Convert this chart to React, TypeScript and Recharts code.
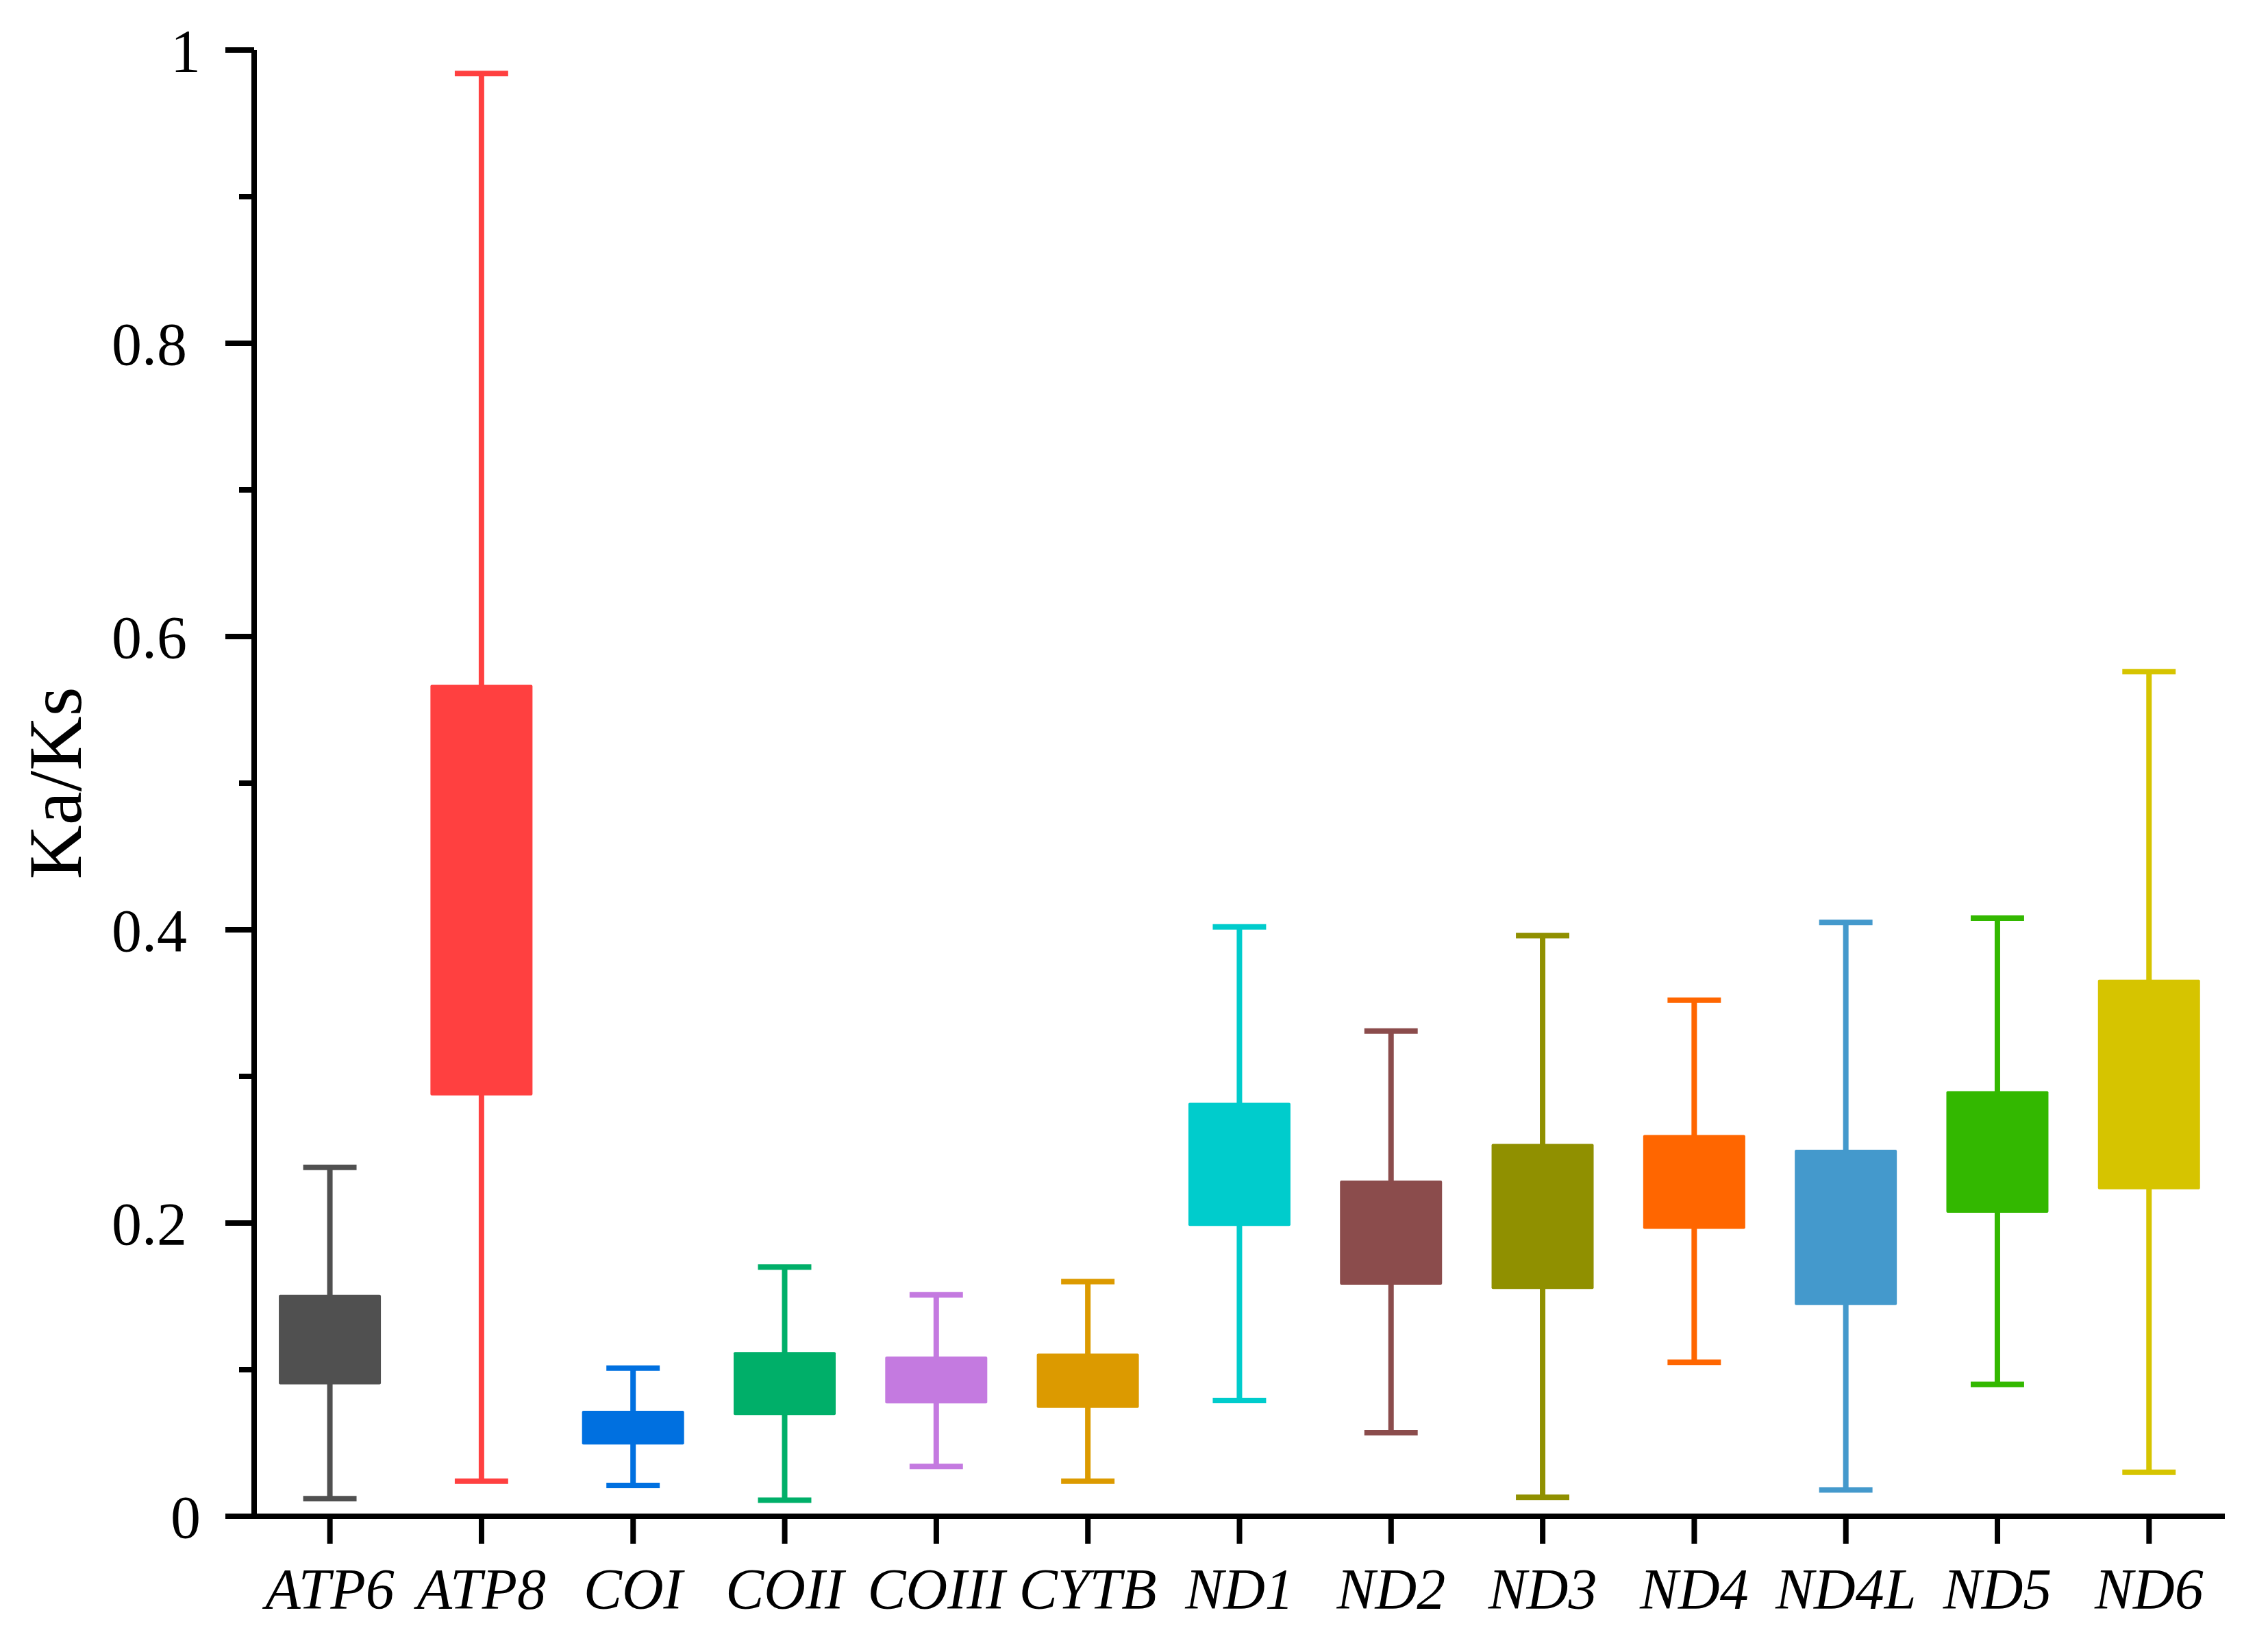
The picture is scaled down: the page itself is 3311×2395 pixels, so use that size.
import React from 'react';
import { BarChart, Bar, XAxis, YAxis } from 'recharts';

// genes on the x axis
const genes = ['ATP6', 'ATP8', 'COI', 'COII', 'COIII', 'CYTB', 'ND1', 'ND2', 'ND3', 'ND4', 'ND4L', 'ND5', 'ND6'];

// Ka/Ks box plot values
const whiskerLow = [0.012, 0.024, 0.021, 0.011, 0.034, 0.024, 0.079, 0.057, 0.013, 0.105, 0.018, 0.090, 0.030];
const boxLow = [0.090, 0.287, 0.049, 0.069, 0.077, 0.074, 0.198, 0.158, 0.155, 0.196, 0.144, 0.207, 0.223];
const boxHigh = [0.151, 0.567, 0.072, 0.112, 0.109, 0.111, 0.282, 0.229, 0.254, 0.260, 0.250, 0.290, 0.366];
const whiskerHigh = [0.238, 0.984, 0.101, 0.170, 0.151, 0.160, 0.402, 0.331, 0.396, 0.352, 0.405, 0.408, 0.576];

const colors = ['#505050', '#FF4040', '#0070E0', '#00AF69', '#C47AE0', '#DC9A00', '#00CCCC', '#8B4C4C', '#909000', '#FF6600', '#4499CC', '#33B800', '#D6C400'];

const yTicks = [0, 0.1, 0.2, 0.3, 0.4, 0.5, 0.6, 0.7, 0.8, 0.9, 1];

const data = genes.map((gene, i) => ({
  gene,
  lo: whiskerLow[i],
  span: whiskerHigh[i] - whiskerLow[i],
  q1: boxLow[i],
  q3: boxHigh[i],
  hi: whiskerHigh[i],
  color: colors[i],
}));

const FONT = '"Liberation Serif", "Times New Roman", serif';

// draws whisker + box inside the bar's pixel span (lo..hi)
const BoxShape = (props: any) => {
  const { x, y, width, height, payload } = props;
  const k = height / (payload.hi - payload.lo);
  const py = (v: number) => y + (payload.hi - v) * k;
  const cx = x + width / 2;
  const cap = width * 0.523;
  const c = payload.color;
  return (
    <g>
      <line x1={cx} x2={cx} y1={py(payload.hi)} y2={py(payload.lo)} stroke={c} strokeWidth={8} />
      <line x1={cx - cap / 2} x2={cx + cap / 2} y1={py(payload.hi)} y2={py(payload.hi)} stroke={c} strokeWidth={8} />
      <line x1={cx - cap / 2} x2={cx + cap / 2} y1={py(payload.lo)} y2={py(payload.lo)} stroke={c} strokeWidth={8} />
      <rect x={x} y={py(payload.q3)} width={width} height={py(payload.q1) - py(payload.q3)} fill={c} rx={2} />
    </g>
  );
};

// y ticks: major every 0.2 with labels, minor ticks in between
const YTick = (props: any) => {
  const { x, y, payload } = props;
  const axisX = x + 56 + 42;
  const v = payload.value;
  const major = Math.round(v * 10) % 2 === 0;
  const label = String(Math.round(v * 10) / 10);
  return (
    <g>
      <line x1={axisX - (major ? 42 : 22)} x2={axisX} y1={y} y2={y} stroke="#000" strokeWidth={8} />
      {major && (
        <text x={label.length === 1 ? x + 20 : x} y={y} dy="0.355em" textAnchor="end" fontSize={88} fontFamily={FONT} fill="#000">
          {label}
        </text>
      )}
    </g>
  );
};

const YLabel = (props: any) => {
  const { viewBox } = props;
  const lx = viewBox.x + 118;
  const ly = viewBox.y + viewBox.height / 2;
  return (
    <text x={lx} y={ly} transform={`rotate(-90, ${lx}, ${ly})`} textAnchor="middle" fontSize={110} fontFamily={FONT} fill="#000">
      Ka/Ks
    </text>
  );
};

const App: React.FC = () => {
  return (
    <div style={{ position: 'absolute', left: 0, top: 0, background: '#fff' }}>
      <BarChart
        width={3311}
        height={2395}
        data={data}
        margin={{ top: 73, right: 63, bottom: 32, left: 0 }}
        barCategoryGap="16.3%"
      >
        <XAxis
          dataKey="gene"
          height={150}
          axisLine={{ stroke: '#000', strokeWidth: 8 }}
          tickLine={{ stroke: '#000', strokeWidth: 8 }}
          tickSize={40}
          tickMargin={35}
          interval={0}
          tick={{ fontSize: 84, fontStyle: 'italic', fontFamily: FONT, fill: '#000' }}
        />
        <YAxis
          width={371}
          domain={[0, 1]}
          ticks={yTicks}
          interval={0}
          axisLine={{ stroke: '#000', strokeWidth: 8 }}
          tickLine={false}
          tickSize={42}
          tickMargin={56}
          tick={<YTick />}
          label={<YLabel />}
        />
        <Bar dataKey="lo" stackId="s" fill="transparent" isAnimationActive={false} />
        <Bar dataKey="span" stackId="s" shape={<BoxShape />} isAnimationActive={false} />
      </BarChart>
    </div>
  );
};

export default App;
